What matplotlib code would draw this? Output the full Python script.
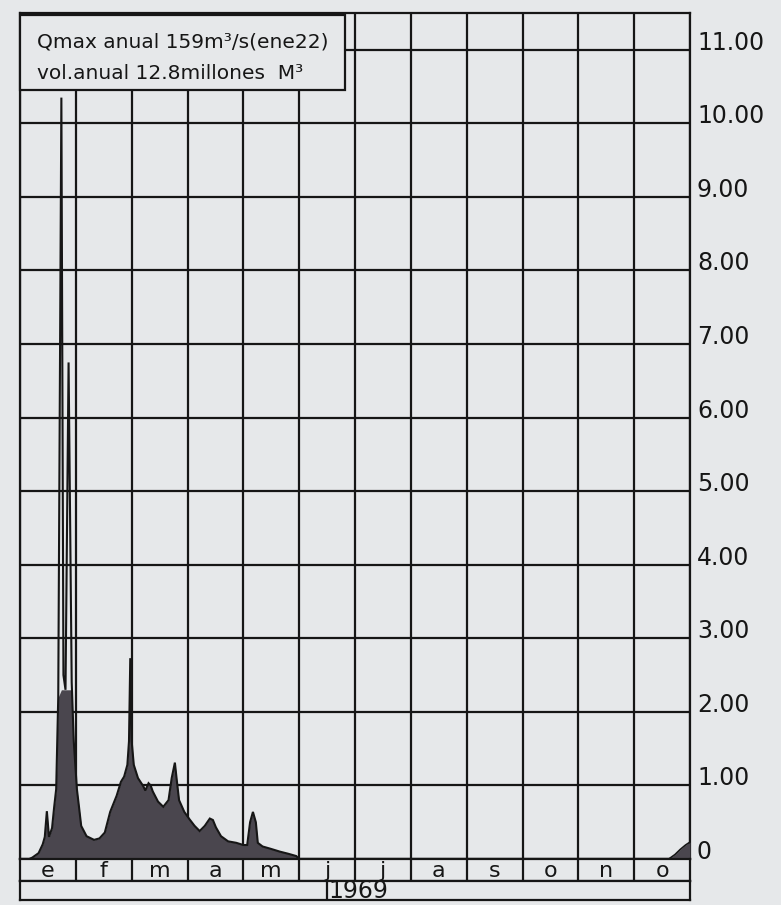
import numpy as np
import matplotlib
matplotlib.use("Agg")
import matplotlib.pyplot as plt
from matplotlib.patches import Rectangle

# ---------------- data ----------------
meses = ["e", "f", "m", "a", "m", "j", "j", "a", "s", "o", "n", "o"]
anio = "1969"
y_ticks = [0, 1, 2, 3, 4, 5, 6, 7, 8, 9, 10, 11]
y_labels = ["0", "1.00", "2.00", "3.00", "4.00", "5.00", "6.00",
            "7.00", "8.00", "9.00", "10.00", "11.00"]

# January - May hydrograph: position in months (0 = 1 Jan), flow
t_ene_may = [0.167, 0.222, 0.333, 0.407, 0.444, 0.481, 0.519, 0.574, 0.611,
             0.648, 0.685, 0.741, 0.778, 0.815, 0.870, 0.926, 0.963,
             1.019, 1.058, 1.096, 1.192, 1.327, 1.423, 1.519, 1.615, 1.673,
             1.731, 1.808, 1.865, 1.923, 1.952, 1.975, 2.000, 2.038, 2.113,
             2.208, 2.245, 2.302, 2.340, 2.377, 2.472, 2.566, 2.660, 2.717,
             2.774, 2.811, 2.849, 2.943, 3.036, 3.127, 3.218, 3.309, 3.400,
             3.455, 3.509, 3.600, 3.727, 3.873, 4.000, 4.069, 4.121, 4.172,
             4.224, 4.259, 4.345, 4.483, 4.655, 4.810, 4.948, 5.000]
q_ene_may = [0.00, 0.02, 0.08, 0.20, 0.30, 0.65, 0.30, 0.42, 0.70,
             0.95, 2.20, 10.35, 2.50, 2.30, 6.75, 2.40, 1.60,
             0.95, 0.70, 0.45, 0.31, 0.26, 0.28, 0.36, 0.64, 0.75,
             0.86, 1.05, 1.12, 1.28, 1.60, 2.73, 1.60, 1.28, 1.10,
             0.99, 0.93, 1.03, 1.00, 0.92, 0.78, 0.71, 0.80, 1.10,
             1.31, 1.05, 0.80, 0.64, 0.54, 0.45, 0.38, 0.45, 0.55,
             0.53, 0.43, 0.31, 0.24, 0.22, 0.19, 0.19, 0.50, 0.64,
             0.50, 0.22, 0.17, 0.14, 0.10, 0.07, 0.04, 0.00]

# December rise
t_dic = [11.619, 11.73, 11.825, 11.92, 12.0]
q_dic = [0.00, 0.06, 0.13, 0.19, 0.23]

texto_qmax = "Qmax anual 159m³/s(ene22)"
texto_vol = "vol.anual 12.8millones  M³"

# ---------------- style ----------------
BG = "#e6e8ea"
FILL = "#4a464e"
INK = "#161616"
LW = 1.6
FONT = "DejaVu Sans"

W, H = 781, 905
fig = plt.figure(figsize=(W / 100, H / 100), dpi=100, facecolor=BG)

x_left, x_right = 20, 690
y_top, y_base, y_row1, y_row2 = 13, 859, 881, 900


def fx(px):
    return px / W


def fy(py):
    return 1 - py / H


ax = fig.add_axes([fx(x_left), fy(y_base), fx(x_right - x_left), (y_base - y_top) / H])
ax.set_facecolor(BG)
ax.set_xlim(0, 12)
ax.set_ylim(0, 11.5)
ax.set_xticks(range(13))
ax.set_yticks(y_ticks)
ax.tick_params(length=0, labelbottom=False, labelleft=False)
ax.grid(True, color=INK, lw=LW, zorder=1)
ax.set_axisbelow(True)
for s in ax.spines.values():
    s.set_color(INK)
    s.set_linewidth(LW)

# hydrograph
t1 = np.array(t_ene_may)
q1 = np.array(q_ene_may)
q1_fill = np.where(t1 < 1, np.minimum(q1, 2.3), q1)
ax.fill_between(t1, 0, q1_fill, color=FILL, lw=0, zorder=3)
ax.plot(t1, q1, color=INK, lw=1.5, zorder=4, solid_joinstyle="miter")
t2 = np.array(t_dic)
q2 = np.array(q_dic)
ax.fill_between(t2, 0, q2, color=FILL, lw=0, zorder=3)
ax.plot(t2, q2, color=INK, lw=1.2, zorder=4)

# right-hand labels
for v, lab in zip(y_ticks, y_labels):
    ax.text(1 + 7 / (x_right - x_left), v, lab, transform=ax.get_yaxis_transform(),
            ha="left", va="baseline", fontsize=17, family=FONT, color=INK,
            clip_on=False)

# info box
box = Rectangle((fx(x_left), fy(90)), fx(345 - x_left), (90 - 15) / H,
                transform=fig.transFigure, facecolor=BG, edgecolor=INK,
                lw=LW, zorder=10, clip_on=False)
ax.add_patch(box)
ax.text(fx(37), fy(47), texto_qmax, transform=fig.transFigure, ha="left",
        va="baseline", fontsize=14.5, family=FONT, color=INK, zorder=11)
ax.text(fx(37), fy(79), texto_vol, transform=fig.transFigure, ha="left",
        va="baseline", fontsize=14.5, family=FONT, color=INK, zorder=11)

# month row
axm = fig.add_axes([fx(x_left), fy(y_row1), fx(x_right - x_left), (y_row1 - y_base) / H])
axm.set_facecolor(BG)
axm.set_xlim(0, 12)
axm.set_ylim(0, 1)
axm.set_xticks([])
axm.set_yticks([])
for s in axm.spines.values():
    s.set_color(INK)
    s.set_linewidth(LW)
axm.vlines(range(1, 12), 0, 1, color=INK, lw=LW)
for i, m in enumerate(meses):
    axm.text(i + 0.5, 0.45, m, ha="center", va="center", fontsize=16,
             family=FONT, color=INK)

# year row
axy = fig.add_axes([fx(x_left), fy(y_row2), fx(x_right - x_left), (y_row2 - y_row1) / H])
axy.set_facecolor(BG)
axy.set_xlim(0, 12)
axy.set_ylim(0, 1)
axy.set_xticks([])
axy.set_yticks([])
for s in axy.spines.values():
    s.set_color(INK)
    s.set_linewidth(LW)
axy.vlines([5.5], 0, 1, color=INK, lw=LW)
axy.text(5.53, 0.45, anio, ha="left", va="center", fontsize=17,
         family=FONT, color=INK)

fig.savefig("out.png", dpi=100, facecolor=BG)
